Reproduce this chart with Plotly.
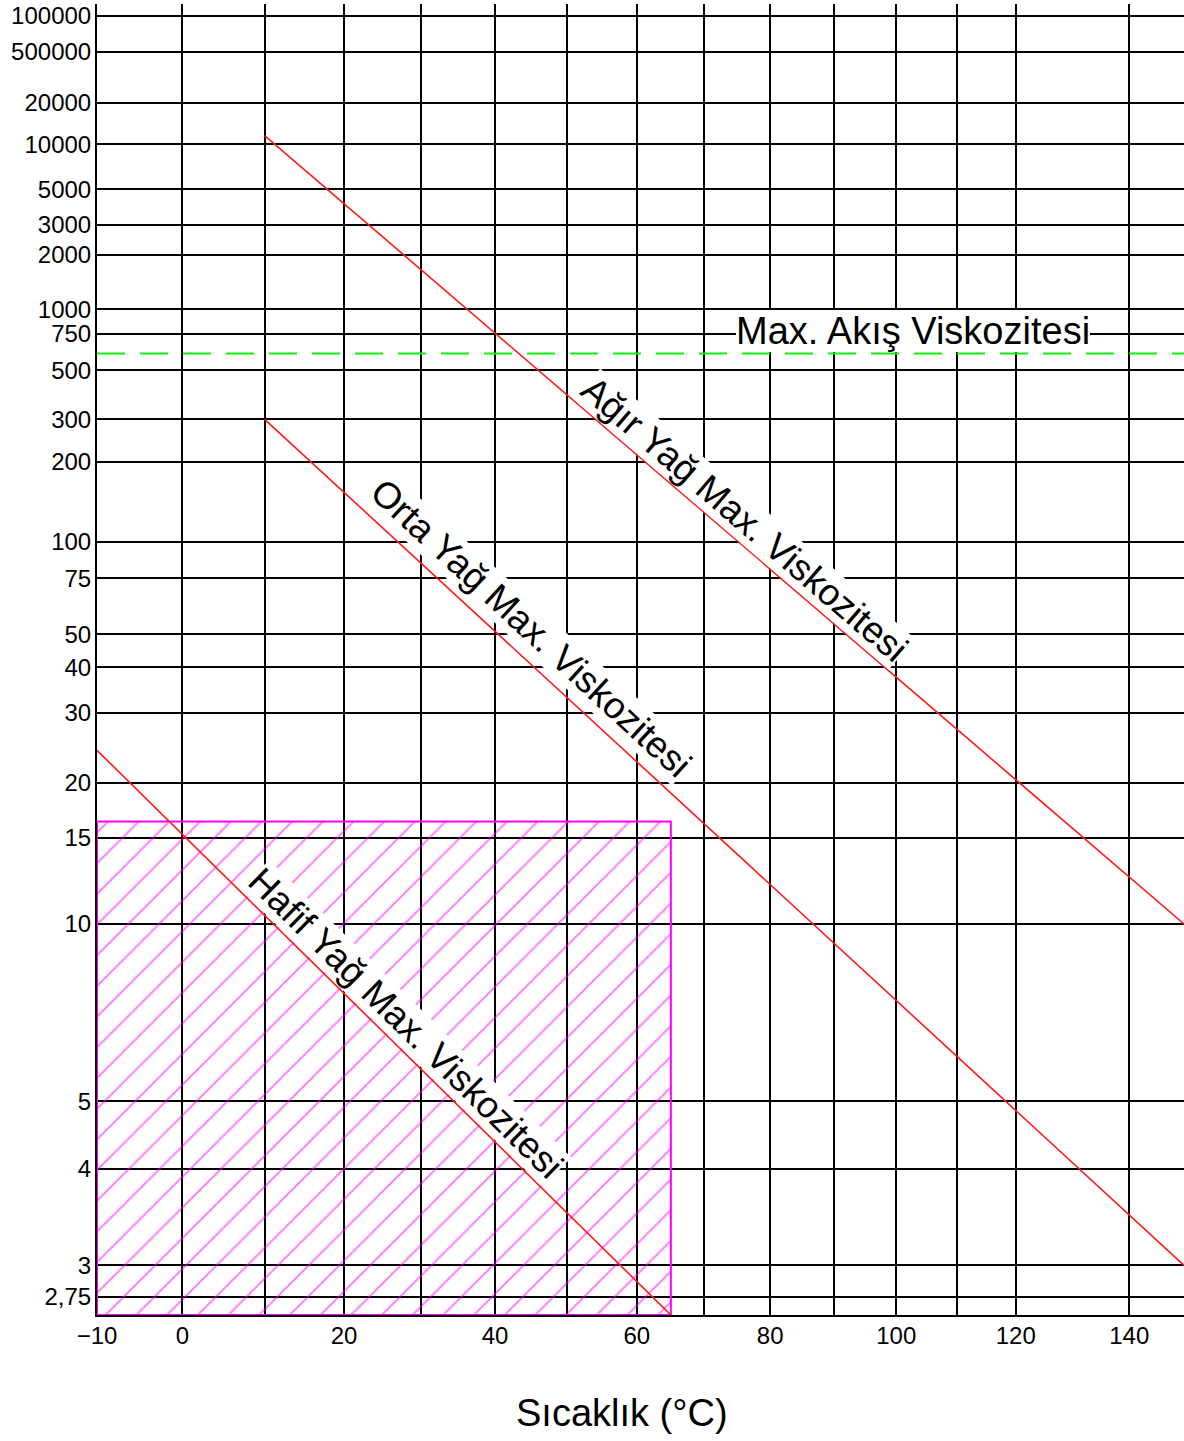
import numpy as np
import plotly.graph_objects as go

# ---------------- data ----------------
temp_grid = [-10, 0, 10, 20, 30, 40, 50, 60, 70, 80, 90, 100, 110, 120, 140]
temp_labels = ["\u221210", "0", "", "20", "", "40", "", "60", "", "80", "", "100", "", "120", "140"]

visc_ticks = [2.75, 3, 4, 5, 10, 15, 20, 30, 40, 50, 75, 100, 200, 300, 500, 750,
              1000, 2000, 3000, 5000, 10000, 20000, 50000, 100000]
visc_labels = ["2,75", "3", "4", "5", "10", "15", "20", "30", "40", "50", "75", "100",
               "200", "300", "500", "750", "1000", "2000", "3000", "5000", "10000",
               "20000", "500000", "100000"]

heavy_T = [10, 150]
heavy_v = [11500, 10]
medium_T = [10, 150]
medium_v = [300, 3]
light_T = [-10, 65]
light_v = [24, 2.62]
flow_T = [-10, 150]
flow_v = [600, 600]
zone_T = [-10, 65, 65, -10, -10]
zone_v = [2.62, 2.62, 16.3, 16.3, 2.62]

T_range = [-10, 150]
v_range = [2.62, 127700]

line_names = ["Ağır Yağ Max. Viskozitesi", "Orta Yağ Max. Viskozitesi", "Hafif Yağ Max. Viskozitesi"]
label_T = [74, 42.5, 26]          # where along each line its label sits (°C)
flow_label = "Max. Akış Viskozitesi"
x_title = "Sıcaklık (°C)"

# ---------------- scales (Walther chart) ----------------
def tx(T):
    return np.log10(np.asarray(T, dtype=float) + 273.15)

def wy(v):
    return np.log10(np.log10(np.asarray(v, dtype=float) + 0.7))

W, H = 1184, 1441
ML, MR, MT, MB = 97, 0, 4, 126
PW, PH = W - ML - MR, H - MT - MB
xr = [float(tx(T_range[0])), float(tx(T_range[1]))]
yr = [float(wy(v_range[0])), float(wy(v_range[1]))]
sx = PW / (xr[1] - xr[0])
sy = PH / (yr[1] - yr[0])

FONT = "Liberation Sans, Arial, sans-serif"
fig = go.Figure()

# hatched zone
fig.add_trace(go.Scatter(
    x=tx(zone_T), y=wy(zone_v), mode="lines", fill="toself",
    fillcolor="rgba(0,0,0,0)",
    fillpattern=dict(shape="/", fgcolor="#ff00ff", bgcolor="rgba(0,0,0,0)",
                     size=21.7, solidity=0.09, fillmode="overlay"),
    line=dict(color="#ff00ff", width=2), hoverinfo="skip", showlegend=False))

# flow limit (dashed green)
fig.add_trace(go.Scatter(
    x=tx(flow_T), y=wy(flow_v), mode="lines",
    line=dict(color="#11f011", width=2, dash="28px,15px"),
    hoverinfo="skip", showlegend=False))

# oil lines
series = [(heavy_T, heavy_v), (medium_T, medium_v), (light_T, light_v)]
for T, v in series:
    fig.add_trace(go.Scatter(
        x=tx(T), y=wy(v), mode="lines",
        line=dict(color="#ff1a1a", width=1.6),
        hoverinfo="skip", showlegend=False))

annotations = []
offsets = [21.5, 26.5, 22.3]
for (T, v), name, t0, d in zip(series, line_names, label_T, offsets):
    x0, x1 = tx(T)
    y0, y1 = wy(v)
    ang = np.degrees(np.arctan2(-(y1 - y0) * sy, (x1 - x0) * sx))
    xa = float(tx(t0))
    ya = float(y0 + (y1 - y0) * (xa - x0) / (x1 - x0))
    th = np.radians(ang)
    annotations.append(dict(
        x=xa, y=ya, xref="x", yref="y", text=name, showarrow=False,
        textangle=float(ang), xanchor="center", yanchor="middle",
        xshift=float(d * np.sin(th)), yshift=float(d * np.cos(th)),
        font=dict(family=FONT, size=37, color="black"),
        bgcolor="white", borderpad=0, borderwidth=0))

annotations.append(dict(
    x=(912.5 - ML) / PW, xref="paper", y=float(wy(flow_v[0])), yref="y",
    text=flow_label, showarrow=False, xanchor="center", yanchor="middle",
    yshift=23, font=dict(family=FONT, size=38, color="black"),
    bgcolor="white", borderpad=0, borderwidth=0))

annotations.append(dict(
    x=(621.7 - ML) / PW, xref="paper", y=(1315 - 1412.5) / PH, yref="paper",
    text=x_title, showarrow=False, xanchor="center", yanchor="middle",
    font=dict(family=FONT, size=38, color="black")))

axis_common = dict(showgrid=True, gridcolor="black", gridwidth=2, zeroline=False,
                   showline=True, linecolor="black", linewidth=2, ticks="",
                   tickfont=dict(family=FONT, size=24, color="black"), tickmode="array")

fig.update_layout(
    width=W, height=H, margin=dict(l=ML, r=MR, t=MT, b=MB, pad=0),
    paper_bgcolor="white", plot_bgcolor="white", showlegend=False,
    annotations=annotations,
    xaxis=dict(range=xr, tickvals=list(tx(temp_grid)), ticktext=temp_labels,
               ticklabelstandoff=-2, **axis_common),
    yaxis=dict(range=yr, tickvals=list(wy(visc_ticks)), ticktext=visc_labels,
               ticklabelstandoff=-1, **axis_common),
)

fig.write_html("out.html", config={"displayModeBar": False},
               post_script="document.body.style.margin='0';")
